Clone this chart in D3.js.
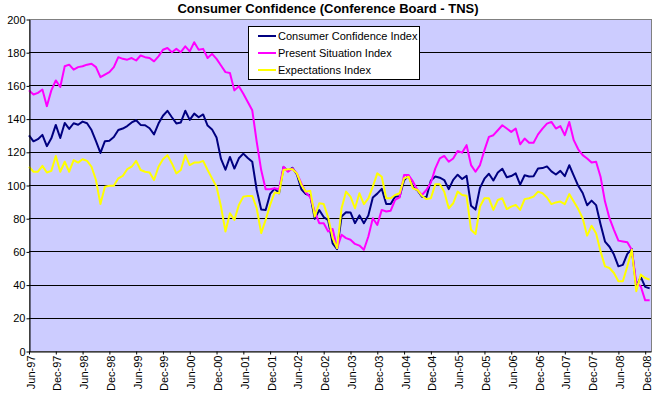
<!DOCTYPE html>
<html>
<head>
<meta charset=utf-8>
<title>Consumer Confidence (Conference Board - TNS)</title>
<script src="https://d3js.org/d3.v7.min.js"></script>
<style>
  body { margin: 0; background: #fff; }
  svg text { font-family: "Liberation Sans", Arial, sans-serif; fill: #000; }
</style>
</head>
<body>
<div id='chart'></div>
<script>

// monthly readings, Jun-97 .. Jan-09
var confidence = [
  129.9, 126.3, 127.6, 130.2, 123.4, 128.1, 136.2, 128.3, 137.4, 133.8, 137.2, 136.3,
  138.2, 137.2, 133.1, 126.4, 119.3, 126.4, 126.7, 128.9, 133.1, 134.0, 135.5, 137.7,
  139.0, 136.2, 136.0, 134.2, 130.5, 137.0, 141.7, 144.7, 140.8, 137.1, 137.7, 144.7,
  139.2, 143.0, 140.8, 142.5, 135.8, 133.5, 128.6, 115.7, 109.2, 116.9, 109.9, 116.1,
  118.9, 116.3, 114.0, 97.0, 85.3, 84.9, 94.6, 97.8, 95.0, 110.7, 108.5, 110.3,
  106.3, 97.4, 94.5, 93.7, 79.6, 84.9, 80.7, 78.8, 64.8, 61.4, 81.0, 83.6,
  83.5, 77.0, 81.7, 77.0, 81.7, 92.5, 94.8, 97.7, 88.5, 88.5, 93.0, 93.1,
  102.8, 105.7, 98.7, 96.7, 92.9, 92.6, 102.7, 105.1, 104.4, 103.0, 97.5, 103.1,
  106.2, 103.6, 105.5, 87.5, 85.2, 98.3, 103.8, 106.8, 102.7, 107.5, 109.8, 104.7,
  105.4, 107.0, 100.2, 105.9, 105.1, 105.3, 110.0, 110.2, 111.2, 108.2, 106.3, 108.5,
  105.3, 111.9, 105.6, 99.5, 95.2, 87.8, 90.6, 87.9, 76.4, 65.9, 62.8, 58.1,
  51.0, 51.9, 58.5, 61.4, 38.8, 44.7, 38.6, 37.7
];

var present = [
  157, 154.5, 155.5, 157.5, 147.5, 157, 163, 159, 171.5, 172.5, 169.5, 171,
  171.5, 172.5, 173, 171, 165, 166.5, 168, 171, 177, 176, 175.5, 176.5,
  175, 178, 177, 176.5, 174.5, 177.5, 181.5, 182.5, 180, 182, 180, 183.5,
  180.5, 186, 181.5, 182, 176.5, 179, 176, 172, 168, 167.5, 157, 159.5,
  155, 150, 145, 126, 109, 97.5, 97.5, 98, 97.5, 111, 108, 110,
  107, 101, 95.5, 92.5, 84, 77, 77, 72, 73.5, 62, 70, 68,
  67, 64.5, 63.5, 61, 69, 80, 76, 85, 84, 84.5, 91, 92.5,
  106, 106, 102, 97, 94, 97, 101.5, 110, 116, 117.5, 114, 116,
  120.5, 119.5, 124, 112, 108, 112, 121, 129, 130, 133, 136, 134,
  132, 134, 124.5, 128, 125.5, 125.5, 130.5, 134, 137, 138, 134, 135.5,
  130, 138, 127, 121.5, 118, 116, 113.5, 114, 105, 90, 80, 73,
  66.5, 66, 65.5, 61, 41, 39, 30.5, 30.5
];

var expectations = [
  111, 108, 108, 111.5, 107.5, 108.5, 117.5, 108, 114, 108, 115, 113.5,
  115.5, 114.5, 111, 103, 88.5, 99, 99.5, 99.5, 104, 105.5, 109.5, 111,
  114.5, 109, 108, 107.5, 103, 111, 115.5, 118, 113, 107, 109, 118,
  112, 113.5, 113.5, 114.5, 109, 104, 99, 87, 72, 83, 79, 88,
  93, 93.4, 93.4, 86, 71, 79, 88, 95.5, 95, 109, 109.5, 109.5,
  107, 100, 96, 96.5, 81, 89, 88.5, 80.5, 68, 62, 86, 96,
  93, 86, 95, 88.5, 92, 99, 107, 105, 92, 92, 94, 95,
  104, 105, 98, 97, 93.5, 91.5, 92, 100.5, 100.5, 96, 86, 89,
  96, 94, 93.5, 73, 70.5, 87, 92, 92, 85, 91, 92, 85.5,
  87, 88, 85, 91.5, 92, 93, 96, 95, 92.5, 88.5, 89.5, 90,
  88.5, 94.5, 90, 85.5, 80, 69.5, 75.5, 71, 60, 51, 50, 47,
  42, 42, 51, 61, 36, 46, 44, 43
];

var tickLabels = [
  'Jun-97', 'Dec-97', 'Jun-98', 'Dec-98', 'Jun-99', 'Dec-99', 'Jun-00', 'Dec-00',
  'Jun-01', 'Dec-01', 'Jun-02', 'Dec-02', 'Jun-03', 'Dec-03', 'Jun-04', 'Dec-04',
  'Jun-05', 'Dec-05', 'Jun-06', 'Dec-06', 'Jun-07', 'Dec-07', 'Jun-08', 'Dec-08'
];
var yTicks = [0, 20, 40, 60, 80, 100, 120, 140, 160, 180, 200];

var seriesNames = ['Consumer Confidence Index', 'Present Situation Index', 'Expectations Index'];
var seriesColors = ['#000080', '#ff00ff', '#ffff00'];
var seriesData = [confidence, present, expectations];

var width = 654, height = 396;
var plotLeft = 29, plotRight = 651, plotTop = 19, plotBottom = 351;

var svg = d3.select('#chart').append('svg')
  .attr('width', width)
  .attr('height', height);

var x = d3.scaleLinear().domain([0, 139.3]).range([plotLeft, plotRight]);
var y = d3.scaleLinear().domain([0, 200]).range([plotBottom, plotTop]);

// title
svg.append('text')
  .attr('x', 328)
  .attr('y', 13)
  .attr('text-anchor', 'middle')
  .style('font-size', '13px')
  .style('font-weight', 'bold')
  .text('Consumer Confidence (Conference Board - TNS)');

// plot area
svg.append('rect')
  .attr('x', plotLeft + 0.5)
  .attr('y', plotTop + 0.5)
  .attr('width', plotRight - plotLeft)
  .attr('height', plotBottom - plotTop)
  .attr('fill', '#ccccff')
  .attr('stroke', '#808080');

// gridlines
svg.append('g')
  .selectAll('line')
  .data(yTicks.filter(function (d) { return d > 0 && d < 200; }))
  .enter().append('line')
    .attr('x1', plotLeft)
    .attr('x2', plotRight)
    .attr('y1', function (d) { return Math.round(y(d)) + 0.5; })
    .attr('y2', function (d) { return Math.round(y(d)) + 0.5; })
    .attr('stroke', '#000')
    .attr('shape-rendering', 'crispEdges');

// series
var line = d3.line()
  .x(function (d, i) { return x(i); })
  .y(function (d) { return y(d); });

svg.append('g')
  .selectAll('path')
  .data(seriesData)
  .enter().append('path')
    .attr('d', line)
    .attr('fill', 'none')
    .attr('stroke', function (d, i) { return seriesColors[i]; })
    .attr('stroke-width', 2)
    .attr('stroke-linejoin', 'round');

// y axis
var yAxis = svg.append('g')
  .attr('transform', 'translate(' + (plotLeft + 0.5) + ',0.5)')
  .call(d3.axisLeft(y).tickValues(yTicks).tickSize(3).tickSizeOuter(0));
yAxis.select('.domain').attr('stroke', '#000');
yAxis.selectAll('.tick line').attr('stroke', '#000');
yAxis.selectAll('.tick text')
  .attr('x', -4)
  .style('font-size', '11px')
  .style('font-family', '"Liberation Sans", Arial, sans-serif');

// x axis
var xAxis = svg.append('g')
  .attr('transform', 'translate(0,' + (plotBottom + 0.5) + ')')
  .call(d3.axisBottom(x)
    .tickValues(d3.range(0, 139, 6))
    .tickFormat(function (d, i) { return tickLabels[i]; })
    .tickSize(3)
    .tickSizeOuter(0));
xAxis.select('.domain').attr('stroke', '#000');
xAxis.selectAll('.tick line').attr('stroke', '#000');
xAxis.selectAll('.tick text')
  .attr('text-anchor', 'end')
  .attr('x', 0)
  .attr('y', 0)
  .attr('dy', 0)
  .attr('transform', 'translate(5,4) rotate(-90)')
  .style('font-size', '11px')
  .style('font-family', '"Liberation Sans", Arial, sans-serif');

// legend
var legend = svg.append('g');
legend.append('rect')
  .attr('x', 248.5)
  .attr('y', 26.5)
  .attr('width', 171)
  .attr('height', 53)
  .attr('fill', '#fff')
  .attr('stroke', '#000');

var entry = legend.selectAll('g.entry')
  .data(seriesNames)
  .enter().append('g')
    .attr('class', 'entry')
    .attr('transform', function (d, i) { return 'translate(0,' + (36 + i * 17) + ')'; });
entry.append('line')
  .attr('x1', 258)
  .attr('x2', 276)
  .attr('stroke', function (d, i) { return seriesColors[i]; })
  .attr('stroke-width', 2);
entry.append('text')
  .attr('x', 278)
  .attr('dy', '0.35em')
  .style('font-size', '11px')
  .text(function (d) { return d; });

</script>
</body>
</html>
